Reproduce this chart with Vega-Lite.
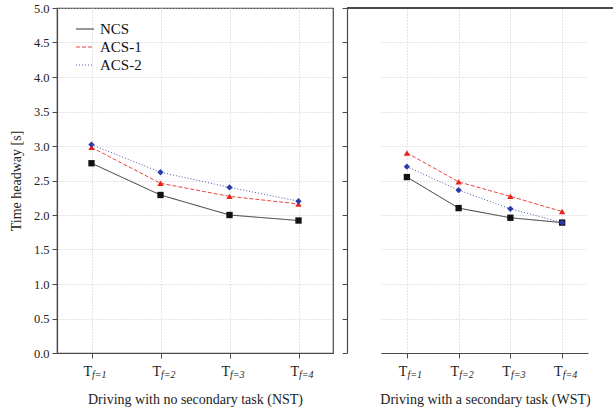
{
  "$schema": "https://vega.github.io/schema/vega-lite/v6.json",
  "padding": {"left": 8, "top": 1, "right": 0, "bottom": 0},
  "spacing": 14,
  "bounds": "flush",
  "background": "white",
  "config": {
    "font": "Liberation Serif",
    "view": {"stroke": "#4a4a4a", "strokeWidth": 1.2},
    "axis": {
      "labelFont": "Liberation Serif",
      "titleFont": "Liberation Serif",
      "labelColor": "#222",
      "titleColor": "#222",
      "titleFontWeight": "normal",
      "domainColor": "#4a4a4a",
      "domainWidth": 1.2,
      "tickColor": "#4a4a4a",
      "gridColor": "#c8c8c8",
      "gridDash": [1, 2],
      "gridWidth": 1
    },
    "axisY": {"tickCount": 11, "labelOverlap": false}
  },
  "data": {
    "values": [
      {"task": "NST", "level": "f=1", "series": "NCS", "value": 2.75},
      {"task": "NST", "level": "f=2", "series": "NCS", "value": 2.29},
      {"task": "NST", "level": "f=3", "series": "NCS", "value": 2.00},
      {"task": "NST", "level": "f=4", "series": "NCS", "value": 1.92},
      {"task": "NST", "level": "f=1", "series": "ACS-1", "value": 2.98},
      {"task": "NST", "level": "f=2", "series": "ACS-1", "value": 2.46},
      {"task": "NST", "level": "f=3", "series": "ACS-1", "value": 2.27},
      {"task": "NST", "level": "f=4", "series": "ACS-1", "value": 2.16},
      {"task": "NST", "level": "f=1", "series": "ACS-2", "value": 3.02},
      {"task": "NST", "level": "f=2", "series": "ACS-2", "value": 2.62},
      {"task": "NST", "level": "f=3", "series": "ACS-2", "value": 2.40},
      {"task": "NST", "level": "f=4", "series": "ACS-2", "value": 2.20},
      {"task": "WST", "level": "f=1", "series": "NCS", "value": 2.55},
      {"task": "WST", "level": "f=2", "series": "NCS", "value": 2.10},
      {"task": "WST", "level": "f=3", "series": "NCS", "value": 1.96},
      {"task": "WST", "level": "f=4", "series": "NCS", "value": 1.89},
      {"task": "WST", "level": "f=1", "series": "ACS-1", "value": 2.90},
      {"task": "WST", "level": "f=2", "series": "ACS-1", "value": 2.48},
      {"task": "WST", "level": "f=3", "series": "ACS-1", "value": 2.27},
      {"task": "WST", "level": "f=4", "series": "ACS-1", "value": 2.05},
      {"task": "WST", "level": "f=1", "series": "ACS-2", "value": 2.70},
      {"task": "WST", "level": "f=2", "series": "ACS-2", "value": 2.36},
      {"task": "WST", "level": "f=3", "series": "ACS-2", "value": 2.09},
      {"task": "WST", "level": "f=4", "series": "ACS-2", "value": 1.89}
    ]
  },
  "resolve": {"legend": {"color": "independent", "strokeDash": "independent"}},
  "hconcat": [
    {
      "width": 276,
      "height": 345,
      "transform": [{"filter": "datum.task === 'NST'"}],
      "encoding": {
        "y": {
          "field": "value", "type": "quantitative",
          "scale": {"domain": [0, 5], "nice": false},
          "axis": {
            "values": [0, 0.5, 1, 1.5, 2, 2.5, 3, 3.5, 4, 4.5, 5], "tickCount": 11, "format": ".1f",
            "labelOverlap": false, "labelFontSize": 12.5, "tickSize": 5, "labelPadding": 3,
            "title": "Time headway [s]", "titleFontSize": 14, "titlePadding": 10, "grid": true
          }
        }
      },
      "layer": [
        {
          "mark": {"type": "line", "strokeWidth": 1, "opacity": 0.85},
          "encoding": {
            "x": {
              "field": "level", "type": "ordinal",
              "scale": {"type": "point", "domain": ["f=1", "f=2", "f=3", "f=4"], "padding": 0.5},
              "axis": {
                "orient": "bottom", "labelExpr": "'T'", "labelAngle": 0, "labelFontSize": 14,
                "labelAlign": "right", "labelDx": 1, "labelPadding": 6, "tickSize": 5, "grid": true,
                "title": "Driving with no secondary task (NST)", "titleFontSize": 14, "titlePadding": 14
              }
            },
            "color": {
              "field": "series", "type": "nominal",
              "scale": {"domain": ["NCS", "ACS-1", "ACS-2"], "range": ["#111111", "#e8231e", "#2b3ca8"]},
              "legend": {
                "orient": "none", "legendX": 18, "legendY": 11, "title": null,
                "labelFont": "Liberation Serif", "labelFontSize": 15, "labelColor": "#111",
                "symbolSize": 324, "symbolStrokeWidth": 1.2, "rowPadding": 0, "labelOffset": 5
              }
            },
            "strokeDash": {
              "field": "series", "type": "nominal",
              "scale": {"domain": ["NCS", "ACS-1", "ACS-2"], "range": [[1, 0], [4, 2], [1, 2]]},
              "legend": {
                "orient": "none", "legendX": 18, "legendY": 11, "title": null,
                "labelFont": "Liberation Serif", "labelFontSize": 15, "labelColor": "#111",
                "symbolSize": 324, "symbolStrokeWidth": 1.2, "rowPadding": 0, "labelOffset": 5
              }
            }
          }
        },
        {
          "mark": {"type": "point", "filled": true, "opacity": 1, "size": 40},
          "encoding": {
            "x": {
              "field": "level", "type": "ordinal",
              "axis": {
                "orient": "bottom", "labelExpr": "datum.value", "labelAngle": 0, "labelFontSize": 10,
                "labelFontStyle": "italic", "labelAlign": "left", "labelDx": 1.5, "labelPadding": 16,
                "domain": false, "ticks": false, "grid": false, "title": null
              }
            },
            "color": {"field": "series", "type": "nominal", "legend": null},
            "shape": {
              "field": "series", "type": "nominal",
              "scale": {"domain": ["NCS", "ACS-1", "ACS-2"], "range": ["square", "triangle-up", "diamond"]},
              "legend": null
            }
          }
        }
      ],
      "resolve": {"axis": {"x": "independent"}}
    },
    {
      "width": 267,
      "height": 345,
      "view": {"stroke": null},
      "transform": [{"filter": "datum.task === 'WST'"}],
      "encoding": {
        "y": {
          "field": "value", "type": "quantitative",
          "scale": {"domain": [0, 5], "nice": false},
          "axis": {
            "values": [0, 0.5, 1, 1.5, 2, 2.5, 3, 3.5, 4, 4.5, 5], "tickCount": 11,
            "labels": false, "tickSize": 5, "title": null, "grid": true
          }
        }
      },
      "layer": [
        {
          "mark": {"type": "line", "strokeWidth": 1, "opacity": 0.85},
          "encoding": {
            "x": {
              "field": "level", "type": "ordinal",
              "scale": {"type": "point", "domain": ["f=1", "f=2", "f=3", "f=4"], "range": [34, 241]},
              "axis": {
                "orient": "bottom", "labelExpr": "'T'", "labelAngle": 0, "labelFontSize": 14,
                "labelAlign": "right", "labelDx": 1, "labelPadding": 6, "tickSize": 5, "grid": true,
                "title": "Driving with a secondary task (WST)", "titleFontSize": 14, "titlePadding": 14, "titleX": 138
              }
            },
            "color": {"field": "series", "type": "nominal", "legend": null},
            "strokeDash": {"field": "series", "type": "nominal", "legend": null}
          }
        },
        {
          "mark": {"type": "point", "filled": true, "opacity": 1, "size": 40},
          "encoding": {
            "x": {
              "field": "level", "type": "ordinal",
              "axis": {
                "orient": "bottom", "labelExpr": "datum.value", "labelAngle": 0, "labelFontSize": 10,
                "labelFontStyle": "italic", "labelAlign": "left", "labelDx": 1.5, "labelPadding": 16,
                "domain": false, "ticks": false, "grid": false, "title": null
              }
            },
            "color": {"field": "series", "type": "nominal", "legend": null},
            "shape": {"field": "series", "type": "nominal", "legend": null}
          }
        },
        {
          "mark": {"type": "rule", "color": "#4a4a4a", "strokeWidth": 1.2},
          "encoding": {"y": {"datum": 5}}
        }
      ],
      "resolve": {"axis": {"x": "independent"}}
    }
  ]
}
